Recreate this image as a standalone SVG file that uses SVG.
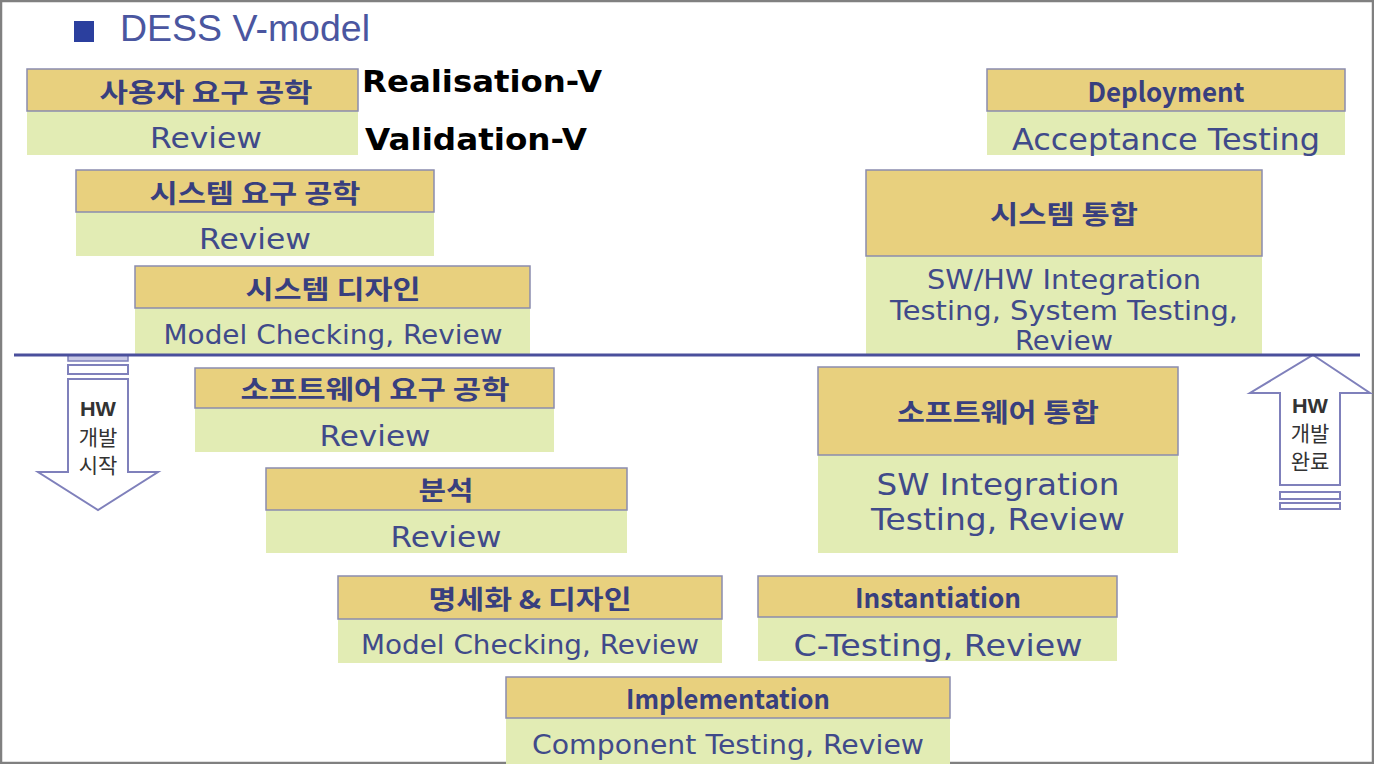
<svg xmlns="http://www.w3.org/2000/svg" width="1374" height="764" viewBox="0 0 1374 764">
  <style>
    .hd { fill: #e8d07e; stroke: #8b8cae; stroke-width: 1.5; }
    .bd { fill: #e2ecb4; }
    .ht { font-family: "Noto Sans CJK KR", "DejaVu Sans", sans-serif; font-weight: 700; fill: #383f7e; text-anchor: middle; dominant-baseline: central; }
    .bt { font-family: "DejaVu Sans", Verdana, sans-serif; fill: #404a8a; text-anchor: middle; dominant-baseline: central; }
    .big { font-family: "DejaVu Sans", Verdana, sans-serif; font-weight: 700; fill: #000; }
    .arw { fill: #ffffff; stroke: #7f80bb; stroke-width: 2; }
    .hw { font-family: "Liberation Sans", "Noto Sans CJK KR", sans-serif; fill: #333; text-anchor: middle; dominant-baseline: central; }
  </style>

  <!-- frame -->
  <rect x="1" y="1" width="1372" height="762" fill="#ffffff" stroke="#808080" stroke-width="2.5"/>

  <!-- title -->
  <g id="title">
    <rect x="74" y="21" width="20" height="21" fill="#2b3f9e"/>
    <text x="120" y="41" font-family="Liberation Sans, Arial, sans-serif" font-size="36" fill="#4a56a0" textLength="250" lengthAdjust="spacingAndGlyphs">DESS V-model</text>
  </g>

  <!-- nodes -->
  <g id="n-user-req">
    <rect class="bd" x="27" y="111" width="331" height="44"/>
    <rect class="hd" x="27" y="69" width="331" height="42"/>
    <text class="ht" x="206" y="90" font-size="26" textLength="213" lengthAdjust="spacingAndGlyphs">사용자 요구 공학</text>
    <text class="bt" x="206" y="138" font-size="29" textLength="112" lengthAdjust="spacingAndGlyphs">Review</text>
  </g>

  <g id="legend">
    <text class="big" x="362" y="92" font-size="30" textLength="240" lengthAdjust="spacingAndGlyphs">Realisation-V</text>
    <text class="big" x="365" y="150" font-size="30" textLength="222" lengthAdjust="spacingAndGlyphs">Validation-V</text>
  </g>

  <g id="n-sys-req">
    <rect class="bd" x="76" y="212" width="358" height="44"/>
    <rect class="hd" x="76" y="170" width="358" height="42"/>
    <text class="ht" x="255" y="191" font-size="26" textLength="211" lengthAdjust="spacingAndGlyphs">시스템 요구 공학</text>
    <text class="bt" x="255" y="239" font-size="29" textLength="112" lengthAdjust="spacingAndGlyphs">Review</text>
  </g>

  <g id="n-sys-design">
    <rect class="bd" x="135" y="308" width="395" height="46"/>
    <rect class="hd" x="135" y="266" width="395" height="42"/>
    <text class="ht" x="333" y="287" font-size="26" textLength="175" lengthAdjust="spacingAndGlyphs">시스템 디자인</text>
    <text class="bt" x="333" y="335" font-size="26" textLength="339" lengthAdjust="spacingAndGlyphs">Model Checking, Review</text>
  </g>

  <g id="n-sw-req">
    <rect class="bd" x="195" y="408" width="359" height="44"/>
    <rect class="hd" x="195" y="368" width="359" height="40"/>
    <text class="ht" x="375" y="387" font-size="26" textLength="269" lengthAdjust="spacingAndGlyphs">소프트웨어 요구 공학</text>
    <text class="bt" x="375" y="436" font-size="29" textLength="111" lengthAdjust="spacingAndGlyphs">Review</text>
  </g>

  <g id="n-analysis">
    <rect class="bd" x="266" y="510" width="361" height="43"/>
    <rect class="hd" x="266" y="468" width="361" height="42"/>
    <text class="ht" x="446" y="488" font-size="26" textLength="55" lengthAdjust="spacingAndGlyphs">분석</text>
    <text class="bt" x="446" y="537" font-size="29" textLength="111" lengthAdjust="spacingAndGlyphs">Review</text>
  </g>

  <g id="n-spec-design">
    <rect class="bd" x="338" y="619" width="384" height="44"/>
    <rect class="hd" x="338" y="576" width="384" height="43"/>
    <text class="ht" x="530" y="597" font-size="26" textLength="203" lengthAdjust="spacingAndGlyphs">명세화 &amp; 디자인</text>
    <text class="bt" x="530" y="645" font-size="26" textLength="338" lengthAdjust="spacingAndGlyphs">Model Checking, Review</text>
  </g>

  <g id="n-impl">
    <rect class="bd" x="506" y="718" width="444" height="46"/>
    <rect class="hd" x="506" y="677" width="444" height="41"/>
    <text class="ht" x="728" y="697" font-size="27" textLength="204" lengthAdjust="spacingAndGlyphs">Implementation</text>
    <text class="bt" x="728" y="745" font-size="26" textLength="392" lengthAdjust="spacingAndGlyphs">Component Testing, Review</text>
  </g>

  <g id="n-inst">
    <rect class="bd" x="758" y="617" width="359" height="44"/>
    <rect class="hd" x="758" y="576" width="359" height="41"/>
    <text class="ht" x="938" y="596" font-size="27" textLength="166" lengthAdjust="spacingAndGlyphs">Instantiation</text>
    <text class="bt" x="938" y="645" font-size="30" textLength="289" lengthAdjust="spacingAndGlyphs">C-Testing, Review</text>
  </g>

  <g id="n-sw-int">
    <rect class="bd" x="818" y="455" width="360" height="98"/>
    <rect class="hd" x="818" y="367" width="360" height="88"/>
    <text class="ht" x="998" y="410" font-size="26" textLength="202" lengthAdjust="spacingAndGlyphs">소프트웨어 통합</text>
    <text class="bt" x="998" y="484" font-size="30" textLength="243" lengthAdjust="spacingAndGlyphs">SW Integration</text>
    <text class="bt" x="998" y="519" font-size="30" textLength="254" lengthAdjust="spacingAndGlyphs">Testing, Review</text>
  </g>

  <g id="n-sys-int">
    <rect class="bd" x="866" y="256" width="396" height="98"/>
    <rect class="hd" x="866" y="170" width="396" height="86"/>
    <text class="ht" x="1064" y="212" font-size="26" textLength="148" lengthAdjust="spacingAndGlyphs">시스템 통합</text>
    <text class="bt" x="1064" y="280" font-size="26" textLength="274" lengthAdjust="spacingAndGlyphs">SW/HW Integration</text>
    <text class="bt" x="1064" y="311" font-size="26" textLength="348" lengthAdjust="spacingAndGlyphs">Testing, System Testing,</text>
    <text class="bt" x="1064" y="341" font-size="26" textLength="98" lengthAdjust="spacingAndGlyphs">Review</text>
  </g>

  <g id="n-deploy">
    <rect class="bd" x="987" y="111" width="358" height="44"/>
    <rect class="hd" x="987" y="69" width="358" height="42"/>
    <text class="ht" x="1166" y="90" font-size="27" textLength="157" lengthAdjust="spacingAndGlyphs">Deployment</text>
    <text class="bt" x="1166" y="139" font-size="30" textLength="308" lengthAdjust="spacingAndGlyphs">Acceptance Testing</text>
  </g>

  <!-- HW development start / end markers -->
  <g id="hw-start">
    <rect x="68" y="355" width="60" height="6" fill="#c9c9e6" stroke="#7f80bb" stroke-width="1.5"/>
    <rect class="arw" x="68" y="365" width="60" height="9"/>
    <path class="arw" d="M68,379 H128 V472 H158 L98,510 L38,472 H68 Z"/>
    <text class="hw" x="98" y="408" font-size="21" font-weight="700" textLength="36" lengthAdjust="spacingAndGlyphs">HW</text>
    <text class="hw" x="98" y="437" font-size="21">개발</text>
    <text class="hw" x="98" y="465" font-size="21">시작</text>
  </g>

  <g id="hw-end">
    <path class="arw" d="M1313,355 L1370,393 H1340 V485 H1280 V393 H1250 Z"/>
    <rect class="arw" x="1280" y="492" width="60" height="7"/>
    <rect class="arw" x="1280" y="503" width="60" height="6"/>
    <text class="hw" x="1310" y="405" font-size="21" font-weight="700" textLength="36" lengthAdjust="spacingAndGlyphs">HW</text>
    <text class="hw" x="1310" y="433" font-size="21">개발</text>
    <text class="hw" x="1310" y="461" font-size="21">완료</text>
  </g>

  <!-- connectors: system / software boundary line -->
  <g id="connectors">
    <line x1="14" y1="355" x2="1360" y2="355" stroke="#4a4f9c" stroke-width="3"/>
  </g>
</svg>
